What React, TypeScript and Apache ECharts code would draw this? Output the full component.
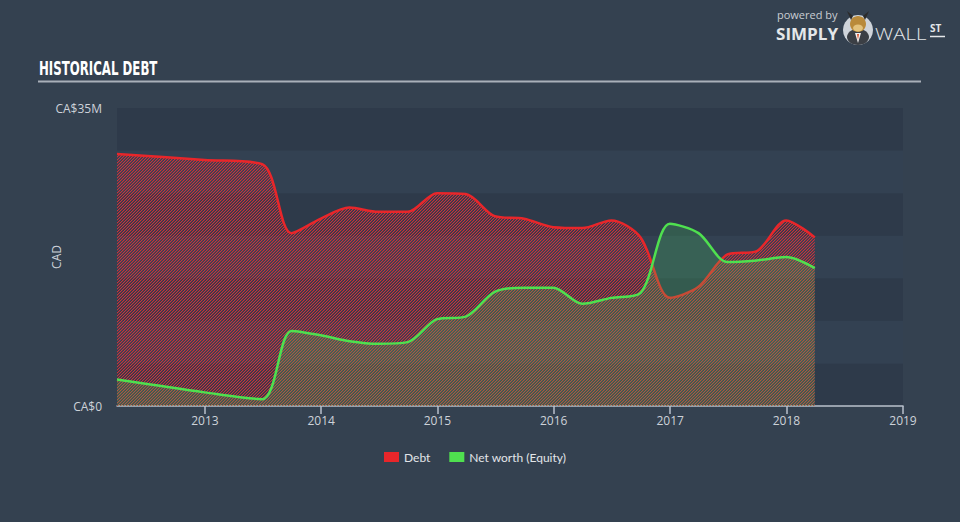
import React, { useEffect, useRef } from "react";
import * as echarts from "echarts";

const dates = [
  "2012-03-31", "2012-12-31", "2013-06-30", "2013-09-30", "2013-12-31",
  "2014-03-31", "2014-06-30", "2014-09-30", "2014-12-31", "2015-03-31",
  "2015-06-30", "2015-09-30", "2015-12-31", "2016-03-31", "2016-06-30",
  "2016-09-30", "2016-12-31", "2017-03-31", "2017-06-30", "2017-09-30",
  "2017-12-31", "2018-03-31",
];
// CA$ millions
const debt = [
  29.6, 28.9, 28.4, 20.3, 22.0, 23.3, 22.8, 22.8, 25.0, 24.9,
  22.3, 22.0, 21.0, 20.9, 21.8, 19.8, 12.7, 14.0, 17.8, 18.2,
  21.8, 19.8,
];
const equity = [
  3.1, 1.6, 0.8, 8.8, 8.3, 7.6, 7.3, 7.5, 10.2, 10.5,
  13.4, 13.9, 13.9, 12.0, 12.7, 13.3, 21.4, 20.3, 16.9, 17.1,
  17.5, 16.2,
];
const seriesNames = ["Debt", "Net worth (Equity)"];
const xMax = "2019-01-02";
const yTickLabels: Record<number, string> = { 0: "CA$0", 35: "CA$35M" };

function makeHatch(r: number, g: number, b: number) {
  const c = document.createElement("canvas");
  c.width = 6;
  c.height = 6;
  const ctx = c.getContext("2d")!;
  for (let y = 0; y < 6; y++) {
    for (let x = 0; x < 6; x++) {
      const k = (x + y) % 3;
      if (k === 0) ctx.fillStyle = `rgba(${r},${g},${b},1)`;
      else if (k === 1) ctx.fillStyle = `rgba(${r},${g},${b},0.35)`;
      else continue;
      ctx.fillRect(x, y, 1, 1);
    }
  }
  return c;
}

export default function App() {
  const ref = useRef<HTMLDivElement>(null);
  useEffect(() => {
    if (!ref.current) return;
    const chart = echarts.init(ref.current, undefined, { renderer: "svg" });
    const hatch = makeHatch(200, 50, 60);
    const font = '"Open Sans", sans-serif';
    chart.setOption({
      animation: false,
      backgroundColor: "#344150",
      textStyle: { fontFamily: font },
      grid: { left: 117, right: 57, top: 108, bottom: 116, containLabel: false },
      legend: {
        left: 384,
        top: 451,
        padding: 0,
        itemWidth: 15,
        itemHeight: 10,
        itemGap: 19,
        icon: "rect",
        textStyle: { color: "#e2e5e9", fontSize: 12, fontFamily: "Lato, sans-serif" },
        data: [
          { name: seriesNames[0], itemStyle: { color: "#e8262a" } },
          { name: seriesNames[1], itemStyle: { color: "#4fe04f" } },
        ],
      },
      xAxis: {
        type: "time",
        min: dates[0],
        max: xMax,
        splitNumber: 7,
        axisLine: { lineStyle: { color: "#b9c1cc", width: 1.5 } },
        axisTick: { show: true, length: 8, lineStyle: { color: "#b9c1cc", width: 1.5 } },
        axisLabel: {
          color: "#cdd2d9",
          fontSize: 12,
          margin: 8,
          fontFamily: font,
          showMaxLabel: true,
          formatter: (v: number) => String(new Date(v).getFullYear()),
        },
        splitLine: { show: false },
      },
      yAxis: {
        type: "value",
        min: 0,
        max: 35,
        interval: 5,
        name: "CAD",
        nameLocation: "middle",
        nameRotate: 90,
        nameGap: 55,
        nameMoveOverlap: false,
        nameTextStyle: { color: "#cdd2d9", fontSize: 12, fontFamily: font },
        axisLine: { show: false },
        axisTick: { show: false },
        axisLabel: {
          color: "#cdd2d9",
          fontSize: 12,
          margin: 15,
          fontFamily: font,
          formatter: (v: number) => yTickLabels[v] ?? "",
        },
        splitLine: { show: false },
        splitArea: { show: true, areaStyle: { color: ["#2e3a4a", "#334152"] } },
      },
      series: [
        {
          name: seriesNames[0],
          type: "line",
          data: dates.map((d, i) => [d, debt[i]]),
          smooth: 0.3,
          showSymbol: false,
          lineStyle: { color: "#e8262a", width: 2.5 },
          itemStyle: { color: "#e8262a" },
          areaStyle: { color: { image: hatch, repeat: "repeat" }, opacity: 1 },
          z: 2,
        },
        {
          name: seriesNames[1],
          type: "line",
          data: dates.map((d, i) => [d, equity[i]]),
          smooth: 0.3,
          showSymbol: false,
          lineStyle: { color: "#4fe04f", width: 2.5 },
          itemStyle: { color: "#4fe04f" },
          areaStyle: { color: "rgba(76,217,100,0.3)" },
          z: 3,
        },
      ],
      graphic: [
        {
          type: "text",
          x: 39,
          y: 58,
          scaleX: 0.655,
          style: {
            text: "HISTORICAL DEBT",
            fill: "#ffffff",
            font: 'bold 20px "Liberation Sans Narrow", "DejaVu Sans Condensed", sans-serif',
          },
        },
        {
          type: "line",
          shape: { x1: 38, y1: 81.5, x2: 921, y2: 81.5 },
          style: { stroke: "#a9b0b9", lineWidth: 2 },
        },
        {
          type: "text",
          x: 777,
          y: 8,
          style: {
            text: "powered by",
            fill: "#c9cdd3",
            font: '11px "Open Sans", sans-serif',
            lineHeight: 12,
          },
        },
        {
          type: "text",
          x: 776,
          y: 26,
          scaleX: 1.1,
          style: {
            text: "SIMPLY",
            fill: "#e4e7ea",
            font: 'bold 15.5px "Open Sans", sans-serif',
            lineHeight: 16,
          },
        },
        { type: "circle", shape: { cx: 858, cy: 30, r: 15 }, style: { fill: "#cfd4da" } },
        { type: "ellipse", shape: { cx: 858, cy: 37, rx: 11, ry: 8 }, style: { fill: "#3b3f45" } },
        { type: "polygon", shape: { points: [[855, 33], [861, 33], [858, 43]] }, style: { fill: "#f2f2f2" } },
        { type: "polygon", shape: { points: [[857, 34], [859, 34], [858, 40]] }, style: { fill: "#d9502a" } },
        { type: "ellipse", shape: { cx: 858, cy: 24, rx: 8, ry: 8 }, style: { fill: "#b98a3a" } },
        { type: "ellipse", shape: { cx: 858, cy: 28, rx: 5, ry: 3.5 }, style: { fill: "#e3c27c" } },
        { type: "polygon", shape: { points: [[851, 20], [847, 11], [853, 16]] }, style: { fill: "#2b2b2b" } },
        { type: "polygon", shape: { points: [[865, 20], [869, 11], [863, 16]] }, style: { fill: "#2b2b2b" } },
        {
          type: "text",
          x: 875,
          y: 24,
          scaleX: 1.2,
          style: {
            text: "WALL",
            fill: "#e4e7ea",
            font: '300 17px "Open Sans", sans-serif',
            lineHeight: 18,
          },
        },
        {
          type: "text",
          x: 930,
          y: 22,
          style: {
            text: "ST",
            fill: "#e4e7ea",
            font: 'bold 10px "Open Sans", sans-serif',
            lineHeight: 11,
          },
        },
        {
          type: "line",
          shape: { x1: 930, y1: 36.5, x2: 945, y2: 36.5 },
          style: { stroke: "#e4e7ea", lineWidth: 1.5 },
        },
      ],
    });
    return () => chart.dispose();
  }, []);
  return (
    <div
      ref={ref}
      style={{ position: "fixed", left: 0, top: 0, width: 960, height: 522 }}
    />
  );
}
